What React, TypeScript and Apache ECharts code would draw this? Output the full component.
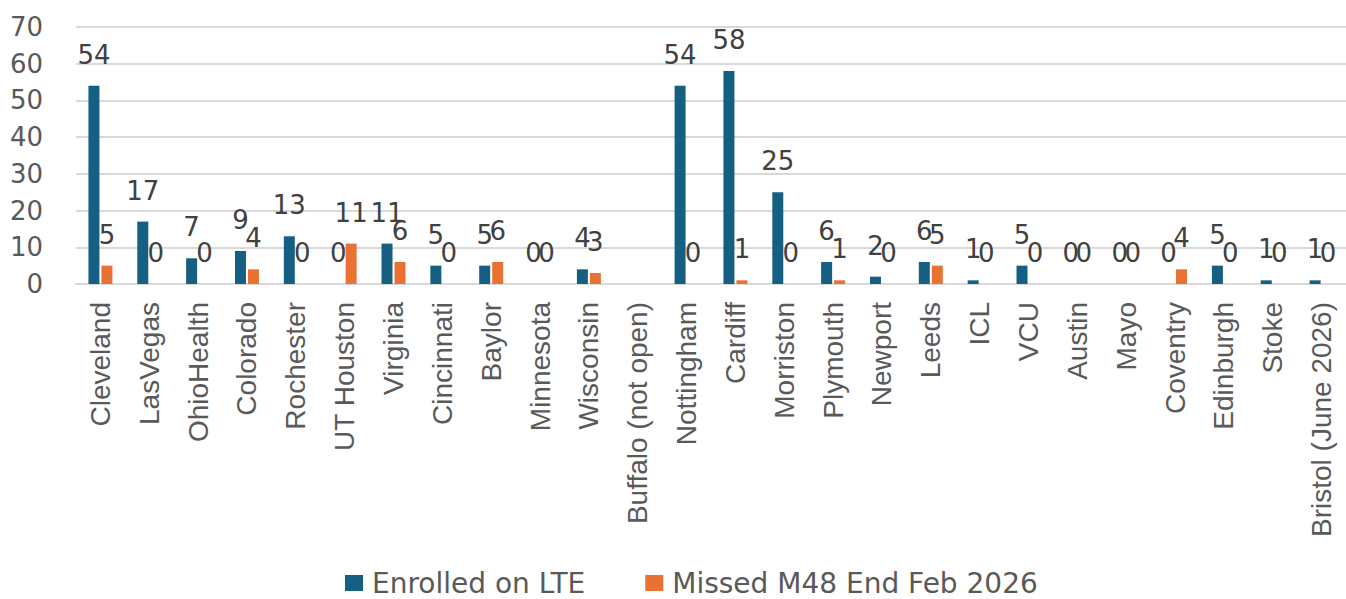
import React, { useEffect, useRef } from "react";
import * as echarts from "echarts";

const categories = [
  "Cleveland", "LasVegas", "OhioHealth", "Colorado", "Rochester", "UT Houston",
  "Virginia", "Cincinnati", "Baylor", "Minnesota", "Wisconsin", "Buffalo (not open)",
  "Nottingham", "Cardiff", "Morriston", "Plymouth", "Newport", "Leeds", "ICL", "VCU",
  "Austin", "Mayo", "Coventry", "Edinburgh", "Stoke", "Bristol (June 2026)",
];
const enrolled = [54, 17, 7, 9, 13, 0, 11, 5, 5, 0, 4, null, 54, 58, 25, 6, 2, 6, 1, 5, 0, 0, 0, 5, 1, 1];
const missed = [5, 0, 0, 4, 0, 11, 6, 0, 6, 0, 3, null, 0, 1, 0, 1, 0, 5, 0, 0, 0, 0, 4, 0, 0, 0];
const seriesNames = ["Enrolled on LTE", "Missed M48 End Feb 2026"];
const colors = ["#156082", "#E97132"];

const textColor = "#595959";
const numFont = "DejaVu Sans";
const txtFont = "Liberation Sans, Arial, sans-serif";

export default function App() {
  const ref = useRef<HTMLDivElement>(null);
  useEffect(() => {
    if (!ref.current) return;
    const chart = echarts.init(ref.current, null, { renderer: "svg" });
    const label = {
      show: true,
      position: "top",
      distance: 18,
      color: "#404040",
      fontFamily: numFont,
      fontSize: 26,
    };
    chart.setOption({
      animation: false,
      color: colors,
      grid: { left: 76, top: 27, width: 1276.6, height: 257, containLabel: false },
      legend: {
        left: 340,
        top: 564,
        itemWidth: 18,
        itemHeight: 16,
        itemGap: 60,
        icon: "rect",
        textStyle: {
          color: textColor,
          fontFamily: numFont,
          fontSize: 28,
          padding: [0, 0, 0, 4],
        },
        data: seriesNames,
      },
      xAxis: {
        type: "category",
        data: categories,
        axisLine: { show: true, lineStyle: { color: "#D9D9D9", width: 2 } },
        axisTick: { show: false },
        axisLabel: {
          rotate: 90,
          margin: 18,
          interval: 0,
          color: textColor,
          fontFamily: txtFont,
          fontSize: 28,
        },
      },
      yAxis: {
        type: "value",
        min: 0,
        max: 70,
        interval: 10,
        axisLine: { show: false },
        axisTick: { show: false },
        splitLine: { lineStyle: { color: "#D9D9D9", width: 2 } },
        axisLabel: { color: textColor, fontFamily: numFont, fontSize: 26, margin: 33 },
      },
      series: [
        {
          name: seriesNames[0],
          type: "bar",
          data: enrolled,
          barWidth: 11,
          barGap: "18%",
          label,
        },
        {
          name: seriesNames[1],
          type: "bar",
          data: missed,
          barWidth: 11,
          barGap: "18%",
          label,
        },
      ],
    });
    return () => chart.dispose();
  }, []);
  return (
    <div
      ref={ref}
      style={{ position: "fixed", left: 0, top: 0, width: 1346, height: 599, background: "#fff" }}
    />
  );
}
